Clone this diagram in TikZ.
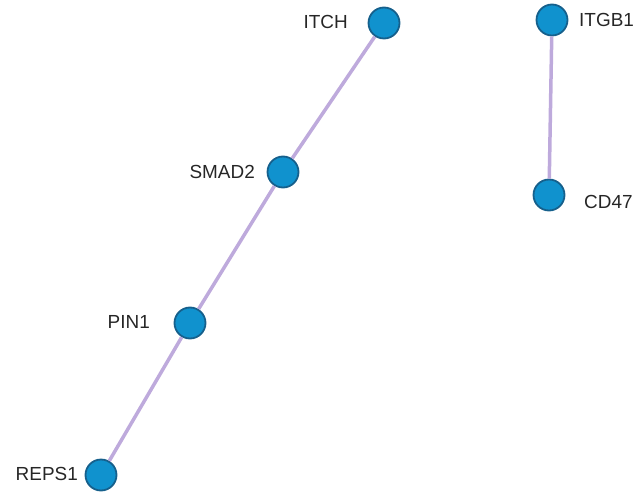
\documentclass[tikz,border=0pt]{standalone}
\usepackage{fontspec}
\setmainfont{Liberation Sans}
\usepackage{tikz}
\usetikzlibrary{positioning}
\definecolor{protfill}{RGB}{16,146,206}
\definecolor{protline}{RGB}{22,96,140}
\definecolor{edgecol}{RGB}{190,170,220}

\begin{document}
\begin{tikzpicture}[x=1bp,y=-1bp,
    prot/.style={circle, fill=protfill, draw=protline, line width=1.8bp, minimum size=31bp, inner sep=0pt},
    lbl/.style={font=\fontsize{19}{19}\selectfont, text=black!85, inner sep=0pt},
    link/.style={draw=edgecol, line width=3.5bp}]
                    \useasboundingbox (0,0) rectangle (636,498);
                    \node[prot] (itch) at (384,23) {};
                    \node[prot] (smad2) at (283,172) {};
                    \node[prot] (pin1) at (190,323) {};
                    \node[prot] (reps1) at (101,475) {};
                    \node[prot] (itgb1) at (552,20) {};
                    \node[prot] (cd47) at (549,195) {};
                    \begin{scope}[on background layer/.try]
                    \draw[link] (itch) -- (smad2);   %chain
                    \draw[link] (smad2) -- (pin1);
                    \draw[link] (pin1) -- (reps1);
                    \draw[link] (itgb1) -- (cd47);
                    \end{scope}
                    \node[lbl, anchor=east] (litch) at (348,22) {ITCH};
                    \node[lbl, anchor=east] (lsmad2) at (255,172) {SMAD2};
                    \node[lbl, anchor=east] (lpin1) at (150,322) {PIN1};
                    \node[lbl, anchor=east] (lreps1) at (78,474) {REPS1};
                    \node[lbl, anchor=west] (litgb1) at (579,20) {ITGB1};
                    \node[lbl, anchor=west] (lcd47) at (584,202) {CD47};
                \end{tikzpicture}
\end{document}
